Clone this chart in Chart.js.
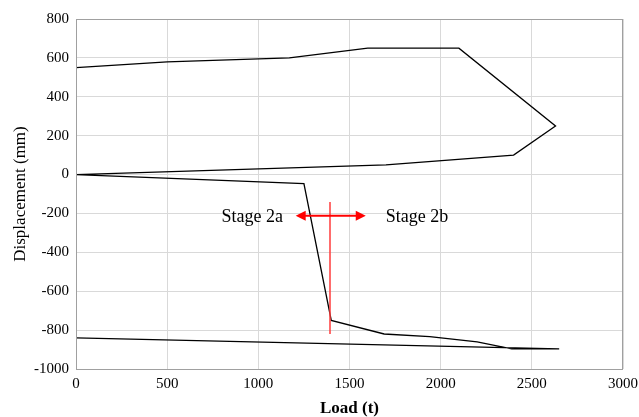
<!DOCTYPE html>
<html><head><meta charset="utf-8">
<script src="https://cdn.jsdelivr.net/npm/chart.js@4"></script>
<style>html,body{margin:0;padding:0;background:#fff}#wrap{width:639px;height:417px}</style>
</head><body><div id="wrap"><canvas id="c" width="639" height="417"></canvas></div>
<script>
// Load (t) and displacement (mm) along the load path
const loadValues = [0, 500, 1170, 1600, 2100, 2630, 2400, 1700, 0, 1250, 1400, 1690, 1940, 2200, 2390, 2650, 0];
const dispValues = [550, 580, 600, 650, 650, 250, 100, 50, 0, -47, -750, -820, -833, -861, -897, -897, -840];
const xTicks = [0, 500, 1000, 1500, 2000, 2500, 3000];
const yTicks = [800, 600, 400, 200, 0, -200, -400, -600, -800, -1000];
// Stage divider annotation (data units)
const dividerLoad = 1392;
const dividerRange = [-141, -820];
const arrowRange = [1205, 1589];
const arrowDisp = -212;
const stageLabels = ["Stage 2a", "Stage 2b"];
const stageLabelLoads = [1135, 1699];

const points = loadValues.map((x, i) => ({x, y: dispValues[i]}));
const serif = "'Liberation Serif','Times New Roman',serif";

const annot = {
  id: 'annot',
  afterDatasetsDraw(chart) {
    const {ctx, scales: {x, y}, chartArea: a} = chart;
    ctx.save();
    ctx.strokeStyle = '#a0a0a0'; ctx.lineWidth = 1;
    ctx.strokeRect(a.left + 0.5, a.top + 0.5, a.right - a.left - 1, a.bottom - a.top);
    ctx.strokeStyle = '#ff3b3b'; ctx.fillStyle = '#ff0000'; ctx.lineWidth = 1.5;
    const vx = Math.round(x.getPixelForValue(dividerLoad));
    ctx.beginPath(); ctx.moveTo(vx, y.getPixelForValue(dividerRange[0])); ctx.lineTo(vx, y.getPixelForValue(dividerRange[1])); ctx.stroke();
    const ay = y.getPixelForValue(arrowDisp);
    const x1 = x.getPixelForValue(arrowRange[0]), x2 = x.getPixelForValue(arrowRange[1]);
    ctx.strokeStyle = '#ff0000'; ctx.lineWidth = 2;
    ctx.beginPath(); ctx.moveTo(x1 + 8, ay); ctx.lineTo(x2 - 8, ay); ctx.stroke();
    ctx.beginPath(); ctx.moveTo(x1, ay); ctx.lineTo(x1 + 10, ay - 5); ctx.lineTo(x1 + 10, ay + 5); ctx.closePath(); ctx.fill();
    ctx.beginPath(); ctx.moveTo(x2, ay); ctx.lineTo(x2 - 10, ay - 5); ctx.lineTo(x2 - 10, ay + 5); ctx.closePath(); ctx.fill();
    ctx.fillStyle = '#000'; ctx.font = '18px ' + serif; ctx.textBaseline = 'middle';
    ctx.textAlign = 'right'; ctx.fillText(stageLabels[0], x.getPixelForValue(stageLabelLoads[0]), ay + 1);
    ctx.textAlign = 'left'; ctx.fillText(stageLabels[1], x.getPixelForValue(stageLabelLoads[1]), ay + 1);
    ctx.restore();
  }
};

new Chart(document.getElementById('c'), {
  type: 'scatter',
  data: { datasets: [{ data: points, showLine: true, borderColor: '#000', borderWidth: 1.3, pointRadius: 0, tension: 0, fill: false }] },
  options: {
    responsive: false, animation: false, devicePixelRatio: 1,
    layout: { padding: { left: 0, right: 16, top: 19, bottom: 0 } },
    plugins: { legend: { display: false }, tooltip: { enabled: false } },
    scales: {
      x: {
        type: 'linear', min: 0, max: 3000,
        afterBuildTicks: s => { s.ticks = xTicks.map(v => ({value: v})); },
        ticks: { color: '#000', font: { family: serif, size: 15 }, padding: 6, maxRotation: 0, callback: v => String(v) },
        grid: { color: '#d9d9d9', drawTicks: false },
        border: { display: false },
        title: { display: true, text: 'Load (t)', color: '#000', font: { family: serif, size: 17, weight: 'bold', lineHeight: 1 }, padding: { top: 6, bottom: 0 } },
        afterFit: s => { s.height = 48; s.paddingRight = 0; s.paddingLeft = 0; }
      },
      y: {
        type: 'linear', min: -1000, max: 800,
        afterBuildTicks: s => { s.ticks = yTicks.map(v => ({value: v})); },
        ticks: { color: '#000', font: { family: serif, size: 15 }, padding: 7, callback: v => String(v) },
        grid: { color: '#d9d9d9', drawTicks: false },
        border: { display: false },
        title: { display: true, text: 'Displacement (mm)', color: '#000', font: { family: serif, size: 17 }, padding: { top: 10, bottom: 6 } },
        afterFit: s => { s.width = 76; s.paddingTop = 0; s.paddingBottom = 0; }
      }
    }
  },
  plugins: [annot]
});
</script></body></html>
